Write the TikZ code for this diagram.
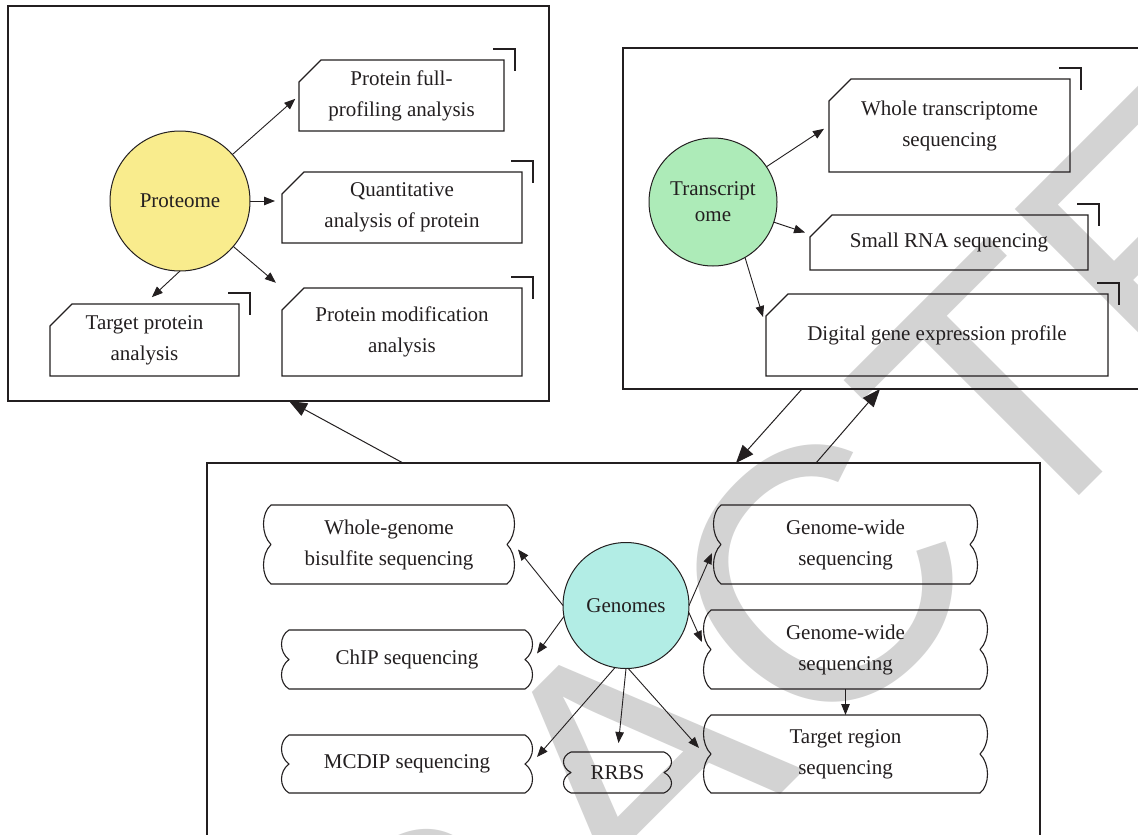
\documentclass[tikz,border=0pt]{standalone}
\usepackage{fontspec}
\setmainfont{Liberation Serif}
\newfontfamily\wmfont{Liberation Sans}
\usetikzlibrary{arrows.meta,calc}
\definecolor{ink}{RGB}{35,31,32}
\definecolor{protfill}{RGB}{249,236,141}
\definecolor{trfill}{RGB}{173,235,184}
\definecolor{genfill}{RGB}{178,237,229}
\definecolor{wmgray}{RGB}{211,211,211}
\tikzset{
  boxline/.style={draw=ink, line width=1.1pt, line join=miter},
  boxtext/.style={inner sep=0pt, outer sep=0pt, align=center, text=ink,
    font=\fontsize{21}{31}\selectfont},
  arr/.style={draw=ink, line width=0.9pt, -{Triangle[length=11pt,width=8.5pt]}},
  bigarr/.style={draw=ink, line width=1pt, -{Triangle[length=18pt,width=14pt]}},
  panel/.style={draw=ink, line width=1.1pt, inner sep=0pt, outer sep=0pt},
  hub/.style={circle, draw=ink, line width=1pt, inner sep=0pt, outer sep=0pt,
    align=center, text=ink, font=\fontsize{21}{26}\selectfont},
  wm/.style={rotate=45, inner sep=0pt, text=wmgray,
    font=\wmfont\fontsize{360}{360}\selectfont}
}
% box with cut top-left corner and a corner bracket: name, x1, y1, x2, y2, text
\newcommand\cutbx[6]{%
  \node[boxtext, minimum width={#4-#2}, minimum height={#5-#3}] (#1)
    at ({(#2+#4)/2},{(#3+#5)/2}) {#6};
  \draw[boxline] ({#2},{#3+22}) -- ({#2+22},{#3}) -- ({#4},{#3}) -- ({#4},{#5})
    -- ({#2},{#5}) -- cycle;
  \draw[boxline] ({#4-11},{#3-11}) -- ({#4+11},{#3-11}) -- ({#4+11},{#3+11});
}
% box with wavy sides: name, xl, yt, xr, yb (outer extents), text
\newcommand\wavbx[6]{%
  \node[boxtext, minimum width={#4-#2}, minimum height={#5-#3}] (#1)
    at ({(#2+#4)/2},{(#3+#5)/2}) {#6};
  \draw[boxline, line join=round]
    ({#2+8},{#3}) -- ({#4-8},{#3})
    .. controls ({#4+2},{#3+0.1*(#5-#3)}) and ({#4+2},{#3+0.375*(#5-#3)}) .. ({#4-8},{(#3+#5)/2})
    .. controls ({#4+2},{#3+0.625*(#5-#3)}) and ({#4+2},{#3+0.9*(#5-#3)}) .. ({#4-8},{#5})
    -- ({#2+8},{#5})
    .. controls ({#2-2},{#3+0.9*(#5-#3)}) and ({#2-2},{#3+0.625*(#5-#3)}) .. ({#2+8},{(#3+#5)/2})
    .. controls ({#2-2},{#3+0.375*(#5-#3)}) and ({#2-2},{#3+0.1*(#5-#3)}) .. ({#2+8},{#3})
    -- cycle;
}
\begin{document}
\begin{tikzpicture}[x=1pt,y=-1pt]
\useasboundingbox (0,0) rectangle (1138,835);
\clip (0,0) rectangle (1138,835);
\fill[white] (0,0) rectangle (1138,835);
% watermark (visible letters of a diagonal "RETRACTED")
\node[wm] (wmR) at (438,961) {R};
\node[wm] (wmA) at (633,767) {A};
\node[wm] (wmC) at (820,580) {C};
\node[wm] (wmT) at (1004,396) {T};
\node[wm] (wmE) at (1167,233) {E};

% panels
\node[panel, minimum width=541, minimum height=395] (p1) at (278.5,203.5) {};
\node[panel, minimum width=537, minimum height=341] (p2) at (891.5,218.5) {};
\node[panel, minimum width=833, minimum height=407] (p3) at (623.5,666.5) {};

% ---- Proteome ----
\node[hub, fill=protfill, minimum size=140] (prot) at (180,201) {Proteome};
\cutbx{pfp}{299}{60}{504}{131}{Protein full-\\profiling analysis}
\cutbx{qa}{282}{172}{522}{243}{Quantitative\\analysis of protein}
\cutbx{pm}{282}{288}{522}{376}{Protein modification\\analysis}
\cutbx{tp}{50}{304}{239}{376}{Target protein\\analysis}
\draw[arr, shorten >=5pt] (prot) -- (pfp.west);
\draw[arr, shorten >=7pt] (prot.east) -- (prot.east -| qa.west);
\draw[arr, shorten >=8pt] (prot) -- (pm.north west);
\draw[arr, shorten >=10pt] (prot.south) -- (tp.north);

% ---- Transcriptome ----
\node[hub, fill=trfill, minimum size=128] (tr) at (713,202) {Transcript\\ome};
\cutbx{wt}{829}{79}{1070}{172}{Whole transcriptome\\sequencing}
\cutbx{srna}{810}{215}{1088}{270}{Small RNA sequencing}
\cutbx{dge}{766}{294}{1108}{376}{Digital gene expression profile}
\draw[arr, shorten >=6pt] (tr) -- (wt.west);
\draw[arr] (tr) -- ($(srna.west)+(-5,-10)$);
\draw[arr] (tr.-60) -- ($(dge.north west)+(-3,23)$);

% ---- Genomes ----
\node[hub, fill=genfill, minimum size=126] (gen) at (626,605.5) {Genomes};
\wavbx{wgb}{263}{505}{515}{584}{Whole-genome\\bisulfite sequencing}
\wavbx{chip}{281}{630}{533}{689}{ChIP sequencing}
\wavbx{mcdip}{281}{735}{533}{793}{MCDIP sequencing}
\wavbx{rrbs}{563}{752}{672}{793}{RRBS}
\wavbx{gwa}{713}{505}{978}{584}{Genome-wide\\sequencing}
\wavbx{gwb}{703}{610}{988}{689}{Genome-wide\\sequencing}
\wavbx{trs}{703}{715}{988}{793}{Target region\\sequencing}
\draw[arr] (gen.west) -- ($(wgb.east)+(3,5)$);
\draw[arr] (gen.190) -- ($(chip.east)+(4,-6)$);
\draw[arr] (gen.260) -- ($(mcdip.east)+(4,-7)$);
\draw[arr] (gen.south) -- ($(rrbs.north)+(1,-9)$);
\draw[arr] (gen.-88) -- ($(trs.west)+(-4,-6)$);
\draw[arr] (gen.east) -- ($(gwa.west)+(-1,8.5)$);
\draw[arr] (gen.-6) -- ($(gwb.west)+(-1,-7.5)$);
\draw[arr] (gwb.south) -- (trs.north);

% ---- between panels ----
\draw[bigarr] ($(p3.north west)!0.2353!(p3.north east)$) -- ($(p1.south west)!0.5194!(p1.south east)$);
\draw[bigarr] ($(p2.south west)!0.3333!(p2.south east)$) -- ($(p3.north west)!0.635!(p3.north east)$);
\draw[bigarr] ($(p3.north west)!0.7311!(p3.north east)$) -- ($(p2.south west)!0.4786!(p2.south east)$);
\end{tikzpicture}
\end{document}
